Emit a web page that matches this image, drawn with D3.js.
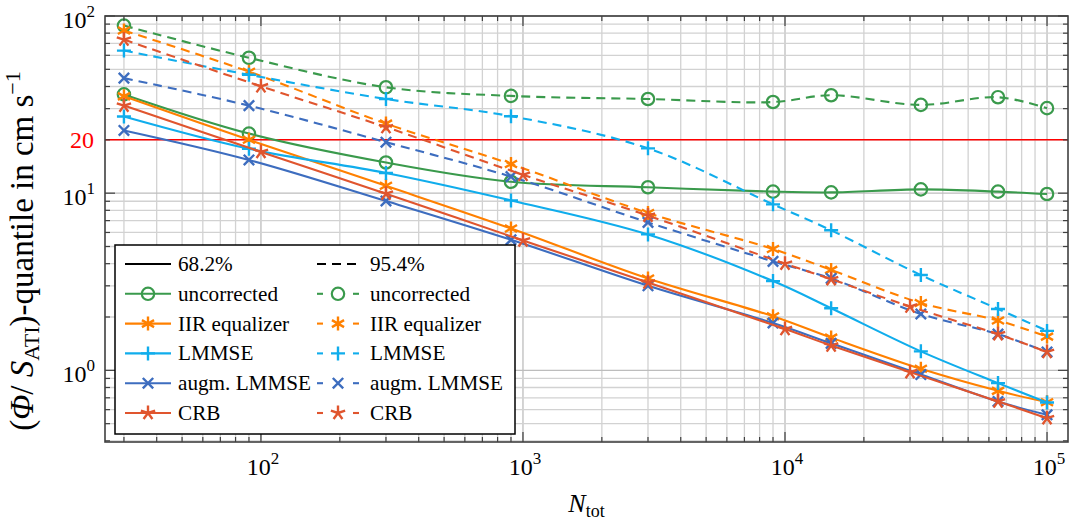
<!DOCTYPE html>
<html>
<head>
<meta charset="utf-8">
<script src="https://cdn.jsdelivr.net/npm/d3@7"></script>
<style>
  body { margin: 0; background: #fff; }
  svg text { font-family: "Liberation Serif", "DejaVu Serif", serif; fill: #000; }
</style>
</head>
<body>
<svg id="chart" width="1069" height="524" font-family="Liberation Serif, serif"></svg>
<script>
// Sample counts (CRB evaluated on a slightly different grid)
const nTot    = [30, 90, 300, 900, 3000, 9000, 15000, 33000, 65000, 100000];
const nTotCrb = [30, 100, 300, 1000, 3000, 10000, 15000, 30000, 65000, 100000];

// 68.2 % quantiles
const uncorrected68 = [36.1, 21.7, 14.9, 11.6, 10.8, 10.2, 10.1, 10.5, 10.2, 9.89];
const iir68         = [35.2, 20.0, 11.0, 6.32, 3.30, 2.02, 1.53, 1.02, 0.766, 0.66];
const lmmse68       = [27.1, 17.8, 13.0, 9.1, 5.85, 3.19, 2.24, 1.28, 0.847, 0.658];
const augm68        = [22.6, 15.4, 9.03, 5.46, 3.00, 1.85, 1.42, 0.947, 0.667, 0.561];
const crb68         = [31.2, 17.1, 9.93, 5.41, 3.13, 1.71, 1.38, 0.977, 0.667, 0.537];

// 95.4 % quantiles
const uncorrected95 = [88.3, 58.1, 39.6, 35.4, 34.0, 32.7, 35.7, 31.5, 34.8, 30.2];
const iir95         = [82.8, 48.5, 24.7, 14.6, 7.73, 4.84, 3.69, 2.40, 1.91, 1.55];
const lmmse95       = [63.8, 46.6, 34.0, 27.2, 17.9, 8.65, 6.17, 3.45, 2.22, 1.67];
const augm95        = [44.6, 31.2, 19.4, 12.4, 6.84, 4.12, 3.30, 2.08, 1.60, 1.27];
const crb95         = [73.6, 40.1, 23.6, 12.7, 7.47, 4.0, 3.27, 2.29, 1.60, 1.27];

const seriesNames = ["uncorrected", "IIR equalizer", "LMMSE", "augm. LMMSE", "CRB"];
const quantileLabels = ["68.2%", "95.4%"];
const xTickExps = [2, 3, 4, 5];
const yTickExps = [0, 1, 2];
const threshold = 20;

const series = [
  { name: seriesNames[0], color: "#3a9a4c", mark: "circle",   x: nTot,    v68: uncorrected68, v95: uncorrected95 },
  { name: seriesNames[1], color: "#ff8000", mark: "asterisk", x: nTot,    v68: iir68,         v95: iir95 },
  { name: seriesNames[2], color: "#10adec", mark: "plus",     x: nTot,    v68: lmmse68,       v95: lmmse95 },
  { name: seriesNames[3], color: "#3d6dbf", mark: "cross",    x: nTot,    v68: augm68,        v95: augm95 },
  { name: seriesNames[4], color: "#e0552e", mark: "star",     x: nTotCrb, v68: crb68,         v95: crb95 }
];

const svg = d3.select("#chart");
const L = 105, R = 1068, T = 16, B = 442;

const x = d3.scaleLog().domain([25.4, 120240]).range([L, R]);
const y = d3.scaleLog().domain([0.394, 100]).range([B, T]);

// minor/major values within the domain
function logValues(scale) {
  const [a, b] = scale.domain();
  const out = [];
  for (let e = Math.floor(Math.log10(a)); e <= Math.ceil(Math.log10(b)); e++) {
    for (let k = 1; k <= 9; k++) {
      const v = k * Math.pow(10, e);
      if (v >= a && v <= b) out.push({ v, major: k === 1 });
    }
  }
  return out;
}
const xVals = logValues(x), yVals = logValues(y);

// grid
const grid = svg.append("g");
grid.selectAll("line.gx").data(xVals).join("line")
  .attr("x1", d => x(d.v)).attr("x2", d => x(d.v)).attr("y1", T).attr("y2", B)
  .attr("stroke", d => d.major ? "#bdbdbd" : "#d2d2d2").attr("stroke-width", 1.3);
grid.selectAll("line.gy").data(yVals).join("line")
  .attr("y1", d => y(d.v)).attr("y2", d => y(d.v)).attr("x1", L).attr("x2", R)
  .attr("stroke", d => d.major ? "#bdbdbd" : "#d2d2d2").attr("stroke-width", 1.3);

// threshold line
svg.append("line").attr("x1", L).attr("x2", R).attr("y1", y(threshold)).attr("y2", y(threshold))
  .attr("stroke", "#ff0000").attr("stroke-width", 1.5);

// marker shapes
function markPath(type) {
  const p = d3.path();
  if (type === "asterisk") {
    const r = 7;
    [90, 30, 150].forEach(a => {
      const t = a * Math.PI / 180;
      p.moveTo(r * Math.cos(t), -r * Math.sin(t)); p.lineTo(-r * Math.cos(t), r * Math.sin(t));
    });
  } else if (type === "star") {
    const r = 7.5;
    for (let k = 0; k < 5; k++) {
      const t = (90 + 72 * k) * Math.PI / 180;
      p.moveTo(0, 0); p.lineTo(r * Math.cos(t), -r * Math.sin(t));
    }
  } else if (type === "plus") {
    const r = 7;
    p.moveTo(-r, 0); p.lineTo(r, 0); p.moveTo(0, -r); p.lineTo(0, r);
  } else if (type === "cross") {
    const r = 5.2;
    p.moveTo(-r, -r); p.lineTo(r, r); p.moveTo(-r, r); p.lineTo(r, -r);
  }
  return p.toString();
}
function drawMark(g, type, color, cx, cy) {
  if (type === "circle") {
    g.append("circle").attr("cx", cx).attr("cy", cy).attr("r", 6.2)
      .attr("fill", "none").attr("stroke", color).attr("stroke-width", 2.2);
  } else {
    g.append("path").attr("d", markPath(type)).attr("transform", `translate(${cx},${cy})`)
      .attr("fill", "none").attr("stroke", color).attr("stroke-width", 2.4);
  }
}

const line = d3.line().x(d => x(d[0])).y(d => y(d[1])).curve(d3.curveCatmullRom.alpha(0.5));
const dash = "9,6";

const plot = svg.append("g");
series.forEach(s => {
  [["v68", null], ["v95", dash]].forEach(([key, da]) => {
    const pts = s.x.map((n, i) => [n, s[key][i]]);
    plot.append("path").datum(pts).attr("d", line)
      .attr("fill", "none").attr("stroke", s.color).attr("stroke-width", 2.1)
      .attr("stroke-dasharray", da);
    pts.forEach(pt => drawMark(plot, s.mark, s.color, x(pt[0]), y(pt[1])));
  });
});

// frame and ticks
const axisColor = "#404040";
svg.append("rect").attr("x", L).attr("y", T).attr("width", R - L).attr("height", B - T)
  .attr("fill", "none").attr("stroke", axisColor).attr("stroke-width", 1.6);
const ticks = svg.append("g").attr("stroke", axisColor).attr("stroke-width", 1.2);
xVals.forEach(d => {
  const len = d.major ? 10 : 5;
  ticks.append("line").attr("x1", x(d.v)).attr("x2", x(d.v)).attr("y1", B).attr("y2", B - len);
  ticks.append("line").attr("x1", x(d.v)).attr("x2", x(d.v)).attr("y1", T).attr("y2", T + len);
});
yVals.forEach(d => {
  const len = d.major ? 10 : 5;
  ticks.append("line").attr("y1", y(d.v)).attr("y2", y(d.v)).attr("x1", L).attr("x2", L + len);
  ticks.append("line").attr("y1", y(d.v)).attr("y2", y(d.v)).attr("x1", R).attr("x2", R - len);
});

// tick labels
const tickFont = 24;
xTickExps.forEach(e => {
  const t = svg.append("text").attr("x", x(Math.pow(10, e)) + 2).attr("y", 475)
    .attr("text-anchor", "middle").attr("font-size", tickFont);
  t.append("tspan").text("10");
  t.append("tspan").attr("font-size", 17).attr("dy", -11).text(e);
});
yTickExps.forEach(e => {
  const t = svg.append("text").attr("x", 95).attr("y", y(Math.pow(10, e)) + 12)
    .attr("text-anchor", "end").attr("font-size", tickFont);
  t.append("tspan").text("10");
  t.append("tspan").attr("font-size", 17).attr("dy", -11).text(e);
});
svg.append("text").attr("x", 94).attr("y", y(threshold) + 8).attr("text-anchor", "end")
  .attr("font-size", tickFont).style("fill", "#ff0000").text(threshold);

// axis titles
const xl = svg.append("text").attr("x", (L + R) / 2).attr("y", 512).attr("text-anchor", "middle").attr("font-size", 26);
xl.append("tspan").attr("font-style", "italic").text("N");
xl.append("tspan").attr("font-size", 18).attr("dy", 5).text("tot");

const yl = svg.append("text").attr("transform", `translate(33,251) rotate(-90)`)
  .attr("text-anchor", "middle").attr("font-size", 33);
yl.append("tspan").text("(");
yl.append("tspan").attr("font-style", "italic").text("Φ");
yl.append("tspan").text("/ ");
yl.append("tspan").attr("font-style", "italic").text("S");
yl.append("tspan").attr("font-size", 22).attr("dy", 6).text("ATI");
yl.append("tspan").attr("dy", -6).text(")-quantile in cm s");
yl.append("tspan").attr("font-size", 22).attr("dy", -13).text("−1");

// legend
const lg = svg.append("g");
lg.append("rect").attr("x", 115).attr("y", 245).attr("width", 400).attr("height", 189)
  .attr("fill", "#fff").attr("stroke", "#000").attr("stroke-width", 1.5);
const rowY = i => 264 + i * 29.8;
const cols = [{ x0: 125, x1: 171, tx: 178 }, { x0: 317, x1: 359, tx: 370 }];
const legendFont = 21.2;
quantileLabels.forEach((q, c) => {
  const cy = rowY(0);
  lg.append("line").attr("x1", cols[c].x0).attr("x2", cols[c].x1).attr("y1", cy).attr("y2", cy)
    .attr("stroke", "#000").attr("stroke-width", 2).attr("stroke-dasharray", c ? "9,6" : null);
  lg.append("text").attr("x", cols[c].tx).attr("y", cy + 7).attr("font-size", legendFont).text(q);
});
series.forEach((s, i) => {
  const cy = rowY(i + 1);
  cols.forEach((col, c) => {
    if (c === 0) {
      lg.append("line").attr("x1", col.x0).attr("x2", col.x1).attr("y1", cy).attr("y2", cy)
        .attr("stroke", s.color).attr("stroke-width", 2.1);
    } else {
      lg.append("line").attr("x1", col.x0).attr("x2", col.x0 + 6).attr("y1", cy).attr("y2", cy)
        .attr("stroke", s.color).attr("stroke-width", 2.1);
      lg.append("line").attr("x1", col.x1 - 6).attr("x2", col.x1).attr("y1", cy).attr("y2", cy)
        .attr("stroke", s.color).attr("stroke-width", 2.1);
    }
    drawMark(lg, s.mark, s.color, (col.x0 + col.x1) / 2, cy);
    lg.append("text").attr("x", col.tx).attr("y", cy + 7).attr("font-size", legendFont).text(s.name);
  });
});
</script>
</body>
</html>
